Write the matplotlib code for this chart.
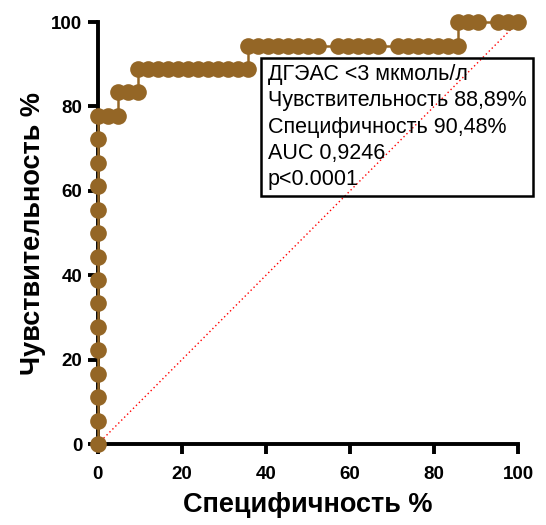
import matplotlib
matplotlib.use('Agg')
import matplotlib.pyplot as plt

plt.rcParams['font.family'] = ['Liberation Sans', 'DejaVu Sans']

# 100 - специфичность, % (ось X) и чувствительность, % (ось Y)
fpr = [0, 0, 0, 0, 0, 0, 0, 0, 0, 0, 0, 0, 0, 0, 0,
       2.38, 4.76,
       4.76, 7.14, 9.52,
       9.52, 11.90, 14.29, 16.67, 19.05, 21.43, 23.81, 26.19, 28.57, 30.95, 33.33, 35.71,
       35.71, 38.10, 40.48, 42.86, 45.24, 47.62, 50.00, 52.38,
       57.14, 59.52, 61.90, 64.29, 66.67,
       71.43, 73.81, 76.19, 78.57, 80.95, 83.33, 85.71,
       85.71, 88.10, 90.48, 95.24, 97.62, 100.0]
tpr = [0, 5.56, 11.11, 16.67, 22.22, 27.78, 33.33, 38.89, 44.44, 50.00, 55.56, 61.11, 66.67, 72.22, 77.78,
       77.78, 77.78,
       83.33, 83.33, 83.33,
       88.89, 88.89, 88.89, 88.89, 88.89, 88.89, 88.89, 88.89, 88.89, 88.89, 88.89, 88.89,
       94.44, 94.44, 94.44, 94.44, 94.44, 94.44, 94.44, 94.44,
       94.44, 94.44, 94.44, 94.44, 94.44,
       94.44, 94.44, 94.44, 94.44, 94.44, 94.44, 94.44,
       100, 100, 100, 100, 100, 100]

ticks = [0, 20, 40, 60, 80, 100]
info = ['ДГЭАС <3 мкмоль/л',
        'Чувствительность 88,89%',
        'Специфичность 90,48%',
        'AUC 0,9246',
        'p<0.0001']

brown = '#946626'

fig = plt.figure(figsize=(5.46, 5.25), dpi=100)
ax = fig.add_axes([0.179, 0.154, 0.770, 0.804])

ax.plot([0, 100], [0, 100], color='red', linestyle=(0, (1, 2)), linewidth=1.0, zorder=2)
ax.plot(fpr, tpr, color=brown, linewidth=1.8, marker='o', markersize=12,
        markeredgewidth=0, clip_on=False, zorder=3)

ax.set_xlim(0, 100)
ax.set_ylim(0, 100)
ax.set_xticks(ticks)
ax.set_yticks(ticks)
for side in ['top', 'right']:
    ax.spines[side].set_visible(False)
for side in ['left', 'bottom']:
    ax.spines[side].set_linewidth(2.8)
ax.tick_params(direction='out', length=7, width=2.8, labelsize=13.5, pad=4)
ax.tick_params(axis='x', pad=9)
for lab in ax.get_xticklabels() + ax.get_yticklabels():
    lab.set_fontweight('bold')

ax.set_xlabel('Специфичность %', fontsize=19.5, fontweight='bold', labelpad=6)
ax.set_ylabel('Чувствительность %', fontsize=19.5, fontweight='bold', labelpad=4)

ax.text(40.4, 90.0, '\n'.join(info), fontsize=15.5, va='top', ha='left',
        linespacing=1.32, zorder=4,
        bbox=dict(boxstyle='square,pad=0.3', facecolor='none', edgecolor='black', linewidth=1.8))

fig.savefig('out.png', dpi=100)
